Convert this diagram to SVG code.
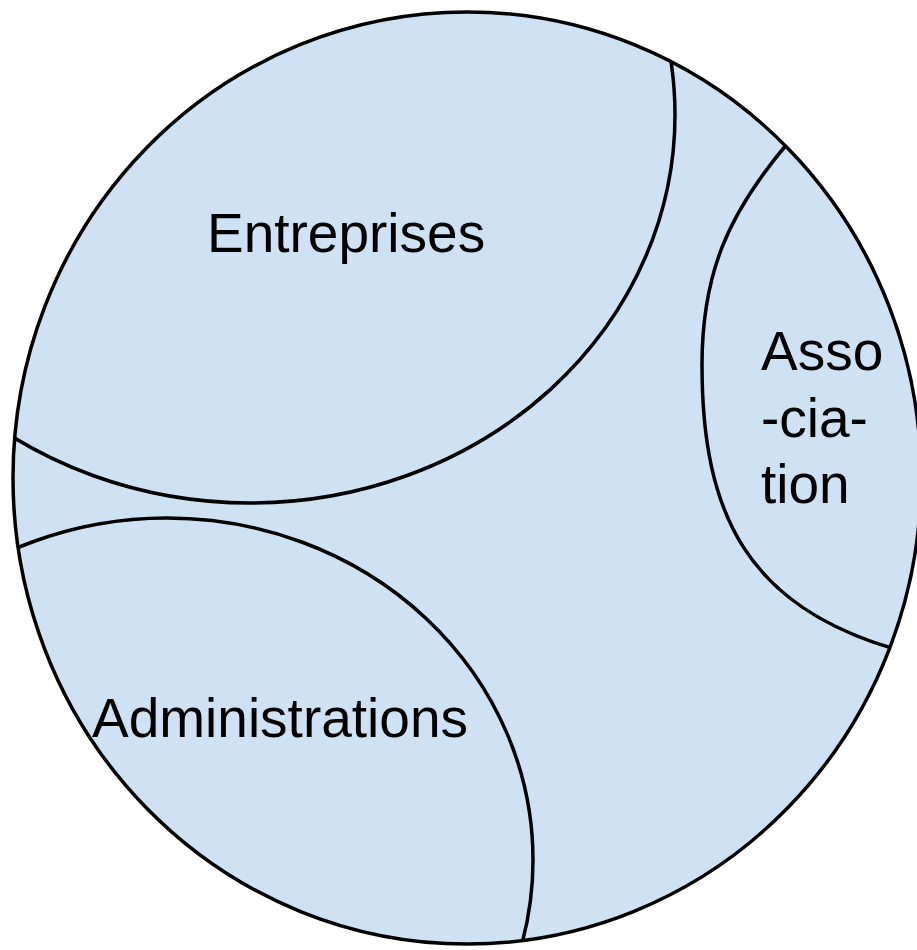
<svg xmlns="http://www.w3.org/2000/svg" width="917" height="950" viewBox="0 0 917 950">
<style>
.edge{fill:none;stroke:#000;stroke-width:3.5}
.lbl{font-family:"Liberation Sans",Arial,sans-serif;font-size:55px;fill:#000}
</style>
<defs>
<clipPath id="inside"><ellipse cx="467" cy="478" rx="454" ry="466"/></clipPath>
</defs>
<rect width="917" height="950" fill="#fff"/>
<g id="ensemble">
<ellipse cx="467" cy="478" rx="454" ry="466" fill="#cfe2f3"/>
</g>
<g id="entreprises">
<ellipse class="edge" cx="250" cy="115" rx="425" ry="388" clip-path="url(#inside)"/>
<text class="lbl" x="207" y="252">Entreprises</text>
</g>
<g id="administrations">
<ellipse class="edge" cx="167" cy="860" rx="366" ry="342" clip-path="url(#inside)"/>
<text class="lbl" x="92" y="737">Administrations</text>
</g>
<g id="association">
<path class="edge" clip-path="url(#inside)" d="M787,144 C727,215 702,275 702,365 C702,515 748,606 895,649"/>
<text class="lbl"><tspan x="761" y="370">Asso</tspan><tspan x="761" y="437">-cia-</tspan><tspan x="761" y="503">tion</tspan></text>
</g>
<g id="connectors"/>
<g id="contour">
<ellipse class="edge" cx="467" cy="478" rx="454" ry="466"/>
</g>
</svg>
